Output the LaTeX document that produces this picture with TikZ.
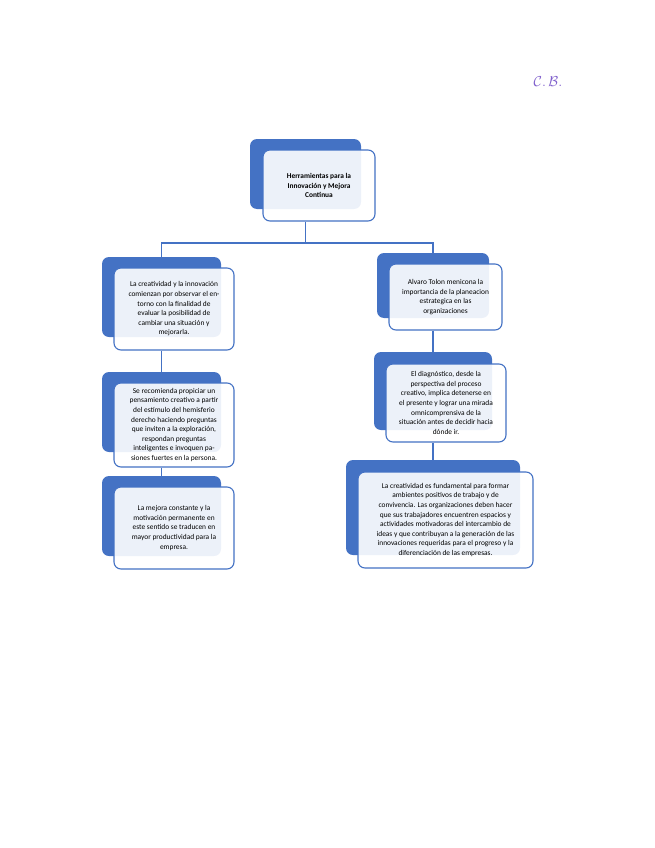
\documentclass[tikz,border=0pt]{standalone}
\usepackage{fontspec}
\setmainfont{Carlito}
\usepackage{tikz}
\usetikzlibrary{positioning}
\definecolor{boxblue}{RGB}{68,114,196}
\definecolor{initials}{RGB}{128,96,204}

\begin{document}
\begin{tikzpicture}[x=1pt,y=-1pt,
  back/.style={fill=boxblue,rounded corners=7pt,inner sep=0pt},
  front/.style={draw=boxblue,line width=1.1pt,fill=white,fill opacity=0.9,text opacity=1,
    rounded corners=7pt,align=center,inner sep=0pt,font=\fontsize{7.4}{9.6}\selectfont},
  link/.style={draw=boxblue,line width=1.1pt}
]
\useasboundingbox (0,0) rectangle (655,848);

% Back shapes
\node[back,minimum width=111pt,minimum height=70pt] (topb) at (305.5,174) {};
\node[back,minimum width=119pt,minimum height=80pt] (l1b)  at (161.5,297) {};
\node[back,minimum width=119pt,minimum height=80pt] (l2b)  at (161.5,412) {};
\node[back,minimum width=119pt,minimum height=80pt] (l3b)  at (161.5,516) {};
\node[back,minimum width=112pt,minimum height=65pt] (r1b)  at (433,285.5) {};
\node[back,minimum width=118pt,minimum height=78pt] (r2b)  at (433,391) {};
\node[back,minimum width=174pt,minimum height=95pt] (r3b)  at (433,507.5) {};

% Front boxes
\node[front,minimum width=112pt,minimum height=71pt] (top) at (319,185.5)
  {\textbf{Herramientas para la}\\\textbf{Innovación y Mejora}\\\textbf{Continua}};
\node[front,minimum width=120pt,minimum height=82pt] (l1) at (174,309)
  {La creatividad y la innovación\\comienzan por observar el en-\\torno con la finalidad de\\evaluar la posibilidad de\\cambiar una situación y\\mejorarla.};
\node[front,minimum width=120pt,minimum height=84pt] (l2) at (174,425)
  {Se recomienda propiciar un\\pensamiento creativo a partir\\del estímulo del hemisferio\\derecho haciendo preguntas\\que inviten a la exploración,\\respondan preguntas\\inteligentes e invoquen pa-\\siones fuertes en la persona.};
\node[front,minimum width=120pt,minimum height=82pt] (l3) at (174,528)
  {La mejora constante y la\\motivación permanente en\\este sentido se traducen en\\mayor productividad para la\\empresa.};
\node[front,minimum width=113pt,minimum height=66pt] (r1) at (445.5,297)
  {Alvaro Tolon menicona la\\importancia de la planeacion\\estrategica en las\\organizaciones};
\node[front,minimum width=120pt,minimum height=78pt] (r2) at (446,403)
  {El diagnóstico, desde la\\perspectiva del proceso\\creativo, implica detenerse en\\el presente y lograr una mirada\\omnicomprensiva de la\\situación antes de decidir hacia\\dónde ir.};
\node[front,minimum width=175pt,minimum height=96pt] (r3) at (445.5,520)
  {La creatividad es fundamental para formar\\ambientes positivos de trabajo y de\\convivencia. Las organizaciones deben hacer\\que sus trabajadores encuentren espacios y\\actividades motivadoras del intercambio de\\ideas y que contribuyan a la generación de las\\innovaciones requeridas para el progreso y la\\diferenciación de las empresas.};

% Connectors
\coordinate (fork) at (305.5,243);
\draw[link] (topb.center |- top.south) -- (fork);
\draw[link] (fork) -| (l1b.north);
\draw[link] (fork) -| (r1b.north);
\draw[link] (l1b.center |- l1.south) -- (l2b.north);
\draw[link] (l2b.center |- l2.south) -- (l3b.north);
\draw[link] (r1b.center |- r1.south) -- (r2b.north);
\draw[link] (r2b.center |- r2.south) -- (r3b.north);

% Initials
\node[text=initials,font=\Large] (sign) at (548,82) {$\mathcal{C}.\,\mathcal{B}.$};
\end{tikzpicture}
\end{document}
